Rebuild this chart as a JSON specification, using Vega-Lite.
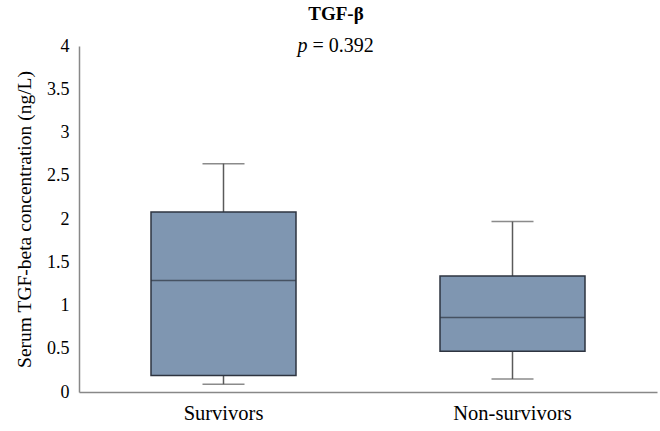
{
  "$schema": "https://vega.github.io/schema/vega-lite/v6.json",
  "autosize": {"type": "none"},
  "width": 578,
  "height": 346,
  "padding": {"left": 79, "top": 46, "right": 3, "bottom": 39},
  "background": "white",
  "title": {
    "text": "TGF-β",
    "font": "Liberation Serif, Times New Roman, DejaVu Serif, serif",
    "fontSize": 19,
    "fontWeight": "bold",
    "color": "#000000",
    "anchor": "middle",
    "dx": -32,
    "offset": 12
  },
  "data": {
    "values": [
      {"group": "Survivors", "lower": 0.09, "q1": 0.19, "median": 1.29, "q3": 2.08, "upper": 2.64},
      {"group": "Non-survivors", "lower": 0.15, "q1": 0.47, "median": 0.86, "q3": 1.34, "upper": 1.97}
    ]
  },
  "encoding": {
    "x": {
      "field": "group",
      "type": "nominal",
      "sort": ["Survivors", "Non-survivors"],
      "scale": {"domain": ["Survivors", "Non-survivors"], "paddingInner": 0, "paddingOuter": 0},
      "axis": {
        "title": null,
        "labelAngle": 0,
        "ticks": false,
        "labelPadding": 11,
        "labelFont": "Liberation Serif, Times New Roman, DejaVu Serif, serif",
        "labelFontSize": 20.5,
        "labelColor": "#000000",
        "domainColor": "#888888",
        "domainWidth": 1.5
      }
    }
  },
  "layer": [
    {
      "mark": {"type": "rule", "color": "#5a5a5a", "strokeWidth": 1.5},
      "encoding": {
        "y": {
          "field": "lower",
          "type": "quantitative",
          "scale": {"domain": [0, 4], "nice": false, "zero": true},
          "axis": {
            "title": "Serum TGF-beta concentration (ng/L)",
            "titleFont": "Liberation Serif, Times New Roman, DejaVu Serif, serif",
            "titleFontSize": 19.5,
            "titleFontWeight": "normal",
            "titleColor": "#000000",
            "titlePadding": 12,
            "values": [0, 0.5, 1, 1.5, 2, 2.5, 3, 3.5, 4],
            "format": "~g",
            "grid": false,
            "ticks": false,
            "labelPadding": 10,
            "labelFont": "Liberation Serif, Times New Roman, DejaVu Serif, serif",
            "labelFontSize": 18,
            "labelColor": "#000000",
            "domainColor": "#888888",
            "domainWidth": 1.5
          }
        },
        "y2": {"field": "upper"}
      }
    },
    {
      "mark": {"type": "tick", "color": "#5a5a5a", "size": 42, "thickness": 1.5},
      "encoding": {"y": {"field": "lower", "type": "quantitative"}}
    },
    {
      "mark": {"type": "tick", "color": "#5a5a5a", "size": 42, "thickness": 1.5},
      "encoding": {"y": {"field": "upper", "type": "quantitative"}}
    },
    {
      "mark": {"type": "bar", "size": 145, "fill": "#7f96b1", "stroke": "#2e3440", "strokeWidth": 1.5},
      "encoding": {
        "y": {"field": "q1", "type": "quantitative"},
        "y2": {"field": "q3"}
      }
    },
    {
      "mark": {"type": "tick", "color": "#2e3440", "size": 145, "thickness": 1.5},
      "encoding": {"y": {"field": "median", "type": "quantitative"}}
    },
    {
      "data": {"values": [{"label": "p"}]},
      "mark": {"type": "text", "font": "Liberation Serif, Times New Roman, DejaVu Serif, serif", "fontSize": 20, "fontStyle": "italic", "align": "right", "baseline": "middle", "dx": 84, "color": "#000000"},
      "encoding": {
        "x": {"datum": "Survivors"},
        "y": {"datum": 4},
        "text": {"field": "label"}
      }
    },
    {
      "data": {"values": [{"label": "= 0.392"}]},
      "mark": {"type": "text", "font": "Liberation Serif, Times New Roman, DejaVu Serif, serif", "fontSize": 20, "align": "left", "baseline": "middle", "dx": 89, "color": "#000000"},
      "encoding": {
        "x": {"datum": "Survivors"},
        "y": {"datum": 4},
        "text": {"field": "label"}
      }
    }
  ],
  "config": {"view": {"stroke": null}}
}
